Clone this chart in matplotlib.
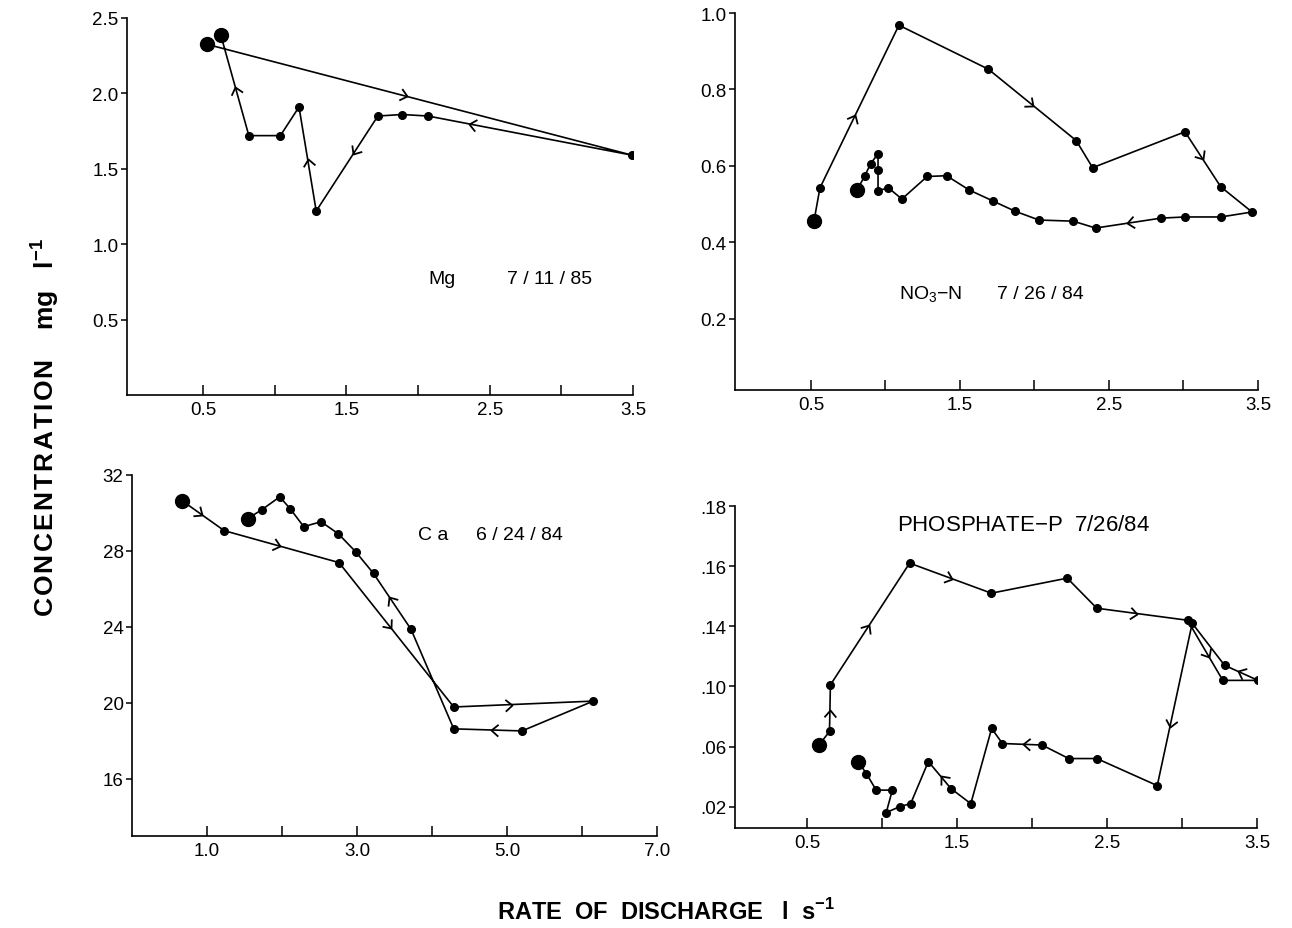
import numpy as np
import matplotlib
matplotlib.use('Agg')
import matplotlib.pyplot as plt
from matplotlib.path import Path
from matplotlib.markers import MarkerStyle
from matplotlib.transforms import Affine2D

plt.rcParams['font.family'] = ['Liberation Sans', 'DejaVu Sans']
plt.rcParams['mathtext.fontset'] = 'custom'
plt.rcParams['mathtext.rm'] = 'Liberation Sans'
plt.rcParams['mathtext.bf'] = 'Liberation Sans:bold'

# ---- data (discharge l/s, concentration) ----
mg_q = [0.53, 3.495, 2.07, 1.89, 1.72, 1.29, 1.17, 1.04, 0.82, 0.625]
mg_c = [2.325, 1.59, 1.85, 1.86, 1.85, 1.22, 1.91, 1.72, 1.72, 2.385]
mg_arrows = [(0, 0.47), (1, 0.80), (4, 0.40), (5, 0.50), (8, 0.48)]

no3_q = [0.52, 0.56, 1.09, 1.69, 2.28, 2.39, 3.01, 3.25, 3.46, 3.25, 3.01, 2.85,
         2.41, 2.26, 2.03, 1.87, 1.72, 1.56, 1.41, 1.28, 1.11, 1.02, 0.95, 0.95,
         0.95, 0.90, 0.86, 0.81]
no3_c = [0.455, 0.542, 0.968, 0.853, 0.666, 0.595, 0.689, 0.545, 0.479, 0.466,
         0.466, 0.463, 0.437, 0.455, 0.458, 0.481, 0.508, 0.537, 0.574, 0.572,
         0.513, 0.542, 0.535, 0.588, 0.632, 0.605, 0.573, 0.537]
no3_arrows = [(1, 0.45), (3, 0.51), (6, 0.50), (11, 0.52)]

ca_q = [0.67, 1.23, 2.76, 4.29, 6.15, 5.20, 4.29, 3.72, 3.22, 2.98, 2.75, 2.52,
        2.29, 2.11, 1.97, 1.73, 1.54]
ca_c = [30.64, 29.07, 27.39, 19.79, 20.1, 18.53, 18.64, 23.88, 26.82, 27.97,
        28.91, 29.54, 29.28, 30.22, 30.85, 30.17, 29.7]
ca_arrows = [(0, 0.48), (1, 0.49), (2, 0.45), (3, 0.42), (5, 0.46), (7, 0.58)]

ph_q = [0.58, 0.65, 0.656, 1.184, 1.729, 2.235, 2.432, 3.037, 3.272, 3.507,
        3.284, 3.068, 2.835, 2.432, 2.245, 2.067, 1.803, 1.731, 1.592, 1.46,
        1.309, 1.191, 1.117, 1.028, 1.069, 0.961, 0.896, 0.841]
ph_c = [0.061, 0.070, 0.101, 0.161, 0.151, 0.156, 0.146, 0.142, 0.104, 0.104,
        0.114, 0.141, 0.034, 0.052, 0.052, 0.061, 0.062, 0.072, 0.022, 0.032,
        0.050, 0.022, 0.020, 0.016, 0.031, 0.031, 0.042, 0.050]
ph_arrows = [(1, 0.47), (2, 0.49), (3, 0.52), (6, 0.44), (7, 0.61), (9, 0.61),
             (11, 0.64), (15, 0.48), (19, 0.46)]

# the phosphate axis is labelled unevenly in the original (.02 .06 .10 .14 .16 .18)
ph_ticks = [0.02, 0.06, 0.10, 0.14, 0.16, 0.18]
ph_tick_labels = ['.02', '.06', '.10', '.14', '.16', '.18']

W, H = 1292, 929
fig = plt.figure(figsize=(W / 100, H / 100), dpi=100)

chevron = Path([(-1.0, 0.85), (0.0, 0.0), (-1.0, -0.85)],
               [Path.MOVETO, Path.LINETO, Path.LINETO])


def add_ax(left, right, top, bottom):
    return fig.add_axes([left / W, 1 - bottom / H, (right - left) / W, (bottom - top) / H])


def style_axis(ax, xmaj, xlab, xmin, yt, ylab):
    for s in ['top', 'right']:
        ax.spines[s].set_visible(False)
    for s in ['left', 'bottom']:
        ax.spines[s].set_linewidth(1.2)
    ax.set_xticks(xmaj)
    ax.set_xticklabels(xlab)
    ax.set_xticks(xmin, minor=True)
    ax.set_yticks(yt)
    ax.set_yticklabels(ylab)
    ax.tick_params(axis='x', which='both', direction='in', length=7, width=1.1, labelsize=13.5, pad=4)
    ax.tick_params(axis='y', direction='out', length=4, width=1.1, labelsize=13.5, pad=2)


def draw_loop(ax, q, c, arrows):
    ax.plot(q, c, '-', color='black', lw=1.2, marker='o', ms=5.5, zorder=3)
    ax.plot([q[0], q[-1]], [c[0], c[-1]], 'o', color='black', ms=10, zorder=4)
    inv = ax.transData.inverted()
    for i, f in arrows:
        # place the chevron in screen space so it sits on the drawn segment
        p0 = ax.transData.transform((q[i], c[i]))
        p1 = ax.transData.transform((q[i + 1], c[i + 1]))
        x, y = inv.transform(p0 + f * (p1 - p0))
        ang = np.degrees(np.arctan2(p1[1] - p0[1], p1[0] - p0[0]))
        m = MarkerStyle(chevron, transform=Affine2D().rotate_deg(ang))
        ax.plot([x], [y], linestyle='none', marker=m, ms=10, mew=1.3,
                mec='black', mfc='none', zorder=5)


# Mg
ax1 = add_ax(127, 633, 19, 396)
ax1.set_xlim(-0.03, 3.5)
ax1.set_ylim(0, 2.5)
style_axis(ax1, [0.5, 1.5, 2.5, 3.5], ['0.5', '1.5', '2.5', '3.5'], [1.0, 2.0, 3.0],
           [0.5, 1.0, 1.5, 2.0, 2.5], ['0.5', '1.0', '1.5', '2.0', '2.5'])
draw_loop(ax1, mg_q, mg_c, mg_arrows)
ax1.text(2.07, 0.77, 'Mg', fontsize=14, va='center')
ax1.text(2.62, 0.77, '7 / 11 / 85', fontsize=14, va='center')

# NO3-N
ax2 = add_ax(735, 1258, 14, 391)
ax2.set_xlim(-0.01, 3.5)
ax2.set_ylim(0.013, 1.0)
style_axis(ax2, [0.5, 1.5, 2.5, 3.5], ['0.5', '1.5', '2.5', '3.5'], [1.0, 2.0, 3.0],
           [0.2, 0.4, 0.6, 0.8, 1.0], ['0.2', '0.4', '0.6', '0.8', '1.0'])
draw_loop(ax2, no3_q, no3_c, no3_arrows)
ax2.text(1.09, 0.265, r'NO$_{3}$$-$N', fontsize=14, va='center')
ax2.text(1.75, 0.265, '7 / 26 / 84', fontsize=14, va='center')

# Ca
ax3 = add_ax(132, 657, 476, 837)
ax3.set_xlim(0, 7.0)
ax3.set_ylim(13, 32)
style_axis(ax3, [1, 3, 5, 7], ['1.0', '3.0', '5.0', '7.0'], [2, 4, 6],
           [16, 20, 24, 28, 32], ['16', '20', '24', '28', '32'])
draw_loop(ax3, ca_q, ca_c, ca_arrows)
ax3.text(3.81, 28.85, 'C a', fontsize=14, va='center')
ax3.text(4.59, 28.85, '6 / 24 / 84', fontsize=14, va='center')

# Phosphate-P, piecewise axis so the printed labels sit evenly spaced
knots = np.array([-0.02] + ph_ticks + [0.20])
steps = np.arange(len(knots)) - 1.0


def ph_fwd(v):
    return np.interp(v, knots, steps)


def ph_inv(t):
    return np.interp(t, steps, knots)


ax4 = add_ax(735, 1257, 507, 829)
ax4.set_yscale('function', functions=(ph_fwd, ph_inv))
ax4.set_xlim(0.02, 3.5)
ax4.set_ylim(0.0058, 0.18)
style_axis(ax4, [0.5, 1.5, 2.5, 3.5], ['0.5', '1.5', '2.5', '3.5'], [1.0, 2.0, 3.0],
           ph_ticks, ph_tick_labels)
ax4.yaxis.set_minor_locator(matplotlib.ticker.NullLocator())
draw_loop(ax4, ph_q, ph_c, ph_arrows)
ax4.text(1.10, 0.1737, 'PHOSPHATE$-$P  7/26/84', fontsize=16, va='center')

# shared axis titles
fig.text(666 / W, 1 - 912 / H, r'RATE  OF  DISCHARGE   l  s$^{\mathbf{-1}}$',
         fontsize=17, fontweight='bold', ha='center', va='center')
hs = '\u200a'
fig.text(45 / W, 1 - 428 / H, hs.join('CONCENTRATION') + r'    mg   l$^{\mathbf{-1}}$',
         fontsize=19, fontweight='bold', rotation=90,
         ha='center', va='center')

fig.savefig('out.png', dpi=100)
